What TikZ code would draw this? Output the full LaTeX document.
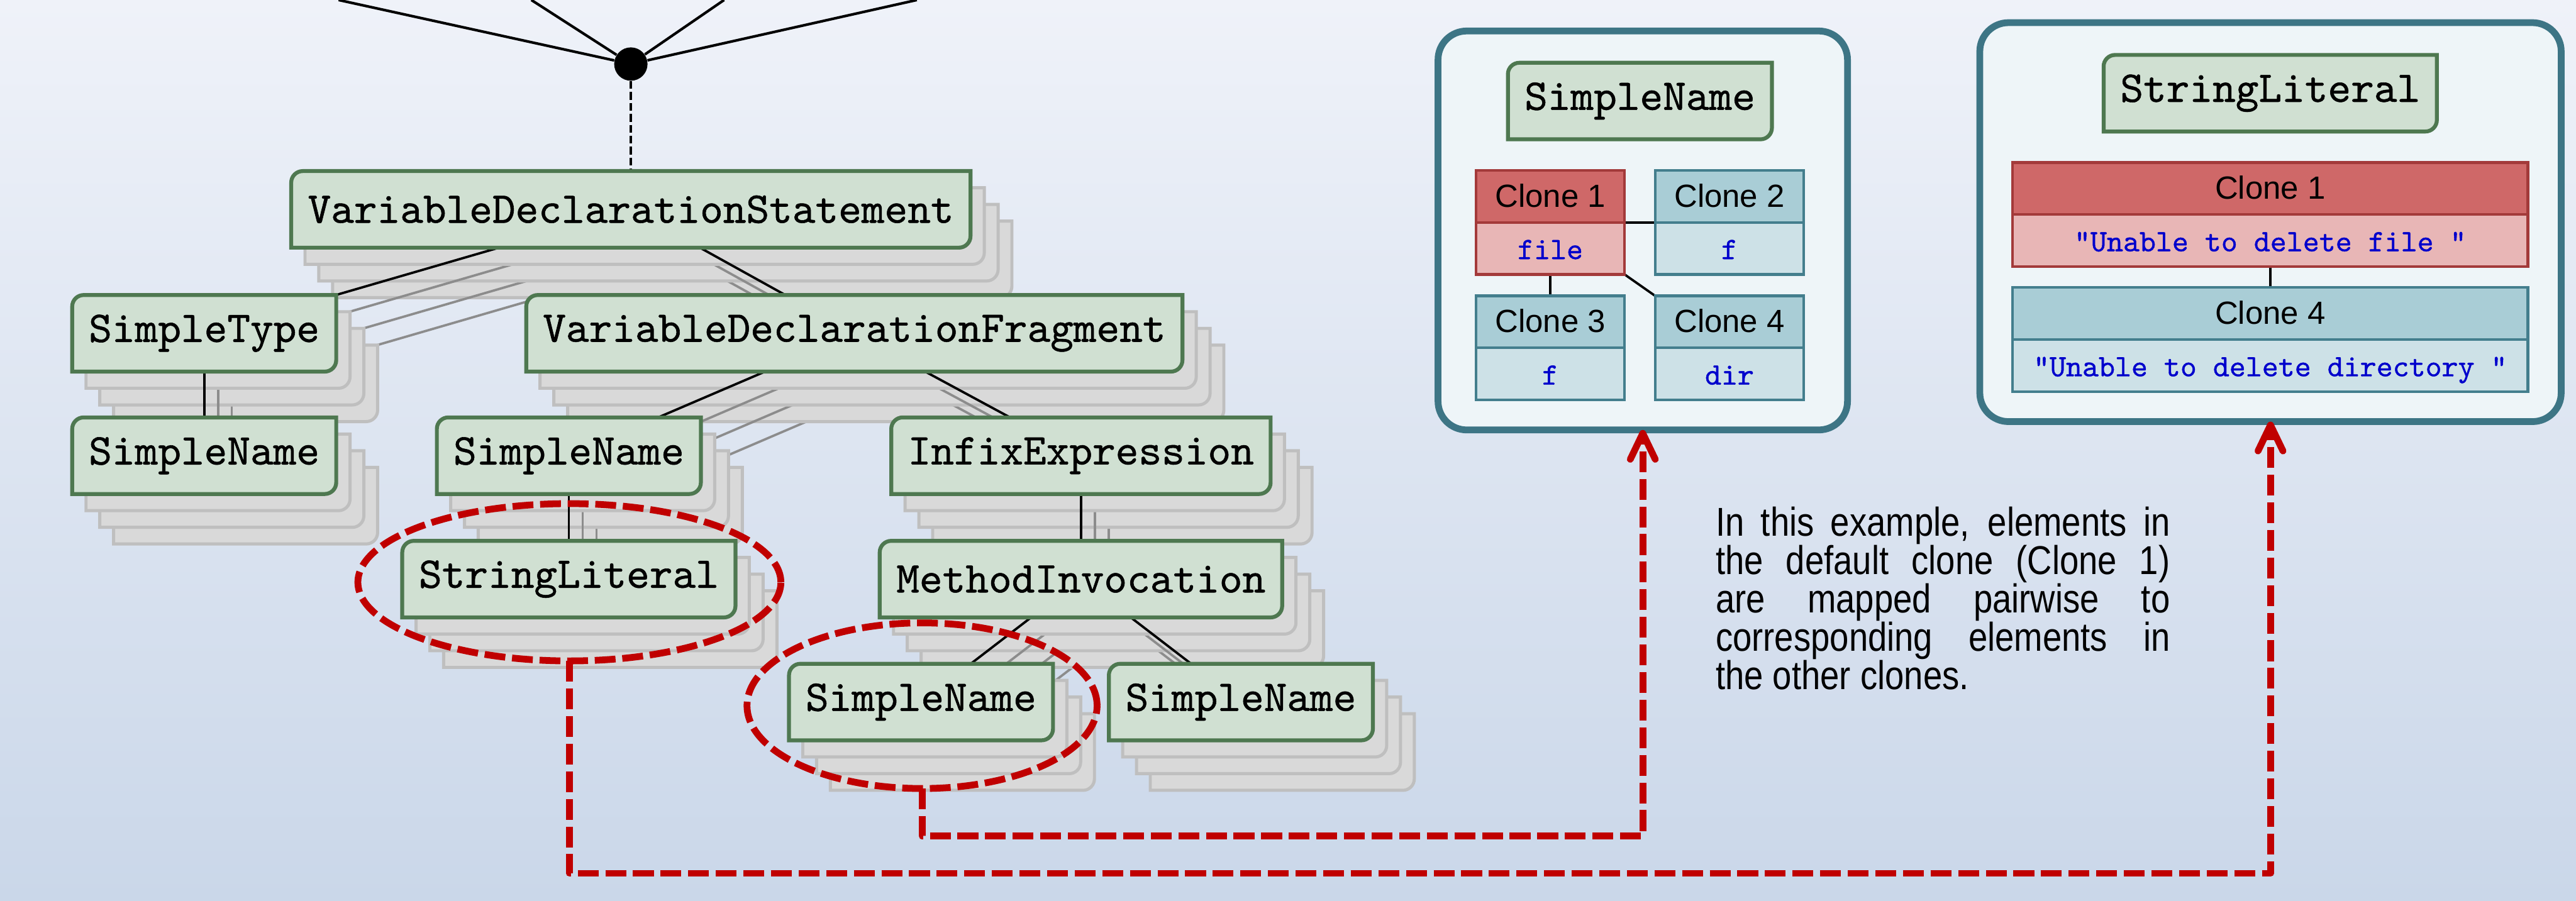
\documentclass[tikz,border=0pt]{standalone}
\usepackage{fontspec}
\setsansfont{Liberation Sans}
\newfontfamily\astfont{lmmono10-regular.otf}[FakeBold=0.8]
\newfontfamily\notefont{Liberation Sans}[FakeStretch=0.85]
\usetikzlibrary{shapes.geometric}
\usetikzlibrary{shapes.multipart}
\usetikzlibrary{arrows.meta}
\pgfdeclarelayer{background}
\pgfdeclarelayer{ghostlayer}
\pgfdeclarelayer{edgelayer}
\pgfdeclarelayer{boxlayer}
\pgfsetlayers{background,ghostlayer,edgelayer,boxlayer,main}

\definecolor{bgtop}{RGB}{239,242,249}
\definecolor{bgbottom}{RGB}{202,215,233}
\definecolor{boxfill}{RGB}{208,224,210}
\definecolor{boxline}{RGB}{78,120,80}
\definecolor{ghostfill}{RGB}{217,217,217}
\definecolor{ghostline}{RGB}{191,191,191}
\definecolor{ghostgray}{RGB}{140,140,140}
\definecolor{mapred}{RGB}{192,0,0}
\definecolor{panelline}{RGB}{61,117,133}
\definecolor{panelfill}{RGB}{238,245,248}
\definecolor{redhead}{RGB}{207,104,104}
\definecolor{redbody}{RGB}{232,182,182}
\definecolor{redline}{RGB}{163,58,58}
\definecolor{bluehead}{RGB}{169,205,214}
\definecolor{bluebody}{RGB}{205,225,231}
\definecolor{blueline}{RGB}{67,126,141}
\definecolor{codeblue}{RGB}{0,0,204}

\tikzstyle{astbox}=[rectangle,inner xsep=0.32cm,inner ysep=0pt,minimum height=1.47cm,outer sep=0pt,font=\astfont\fontsize{24}{28}\selectfont]
\tikzstyle{astframe}=[fill=boxfill,draw=boxline,line width=0.075cm]
\tikzstyle{ghostframe}=[fill=ghostfill,draw=ghostline,line width=0.06cm]
\tikzstyle{astedge}=[draw=black,line width=0.045cm]
\tikzstyle{ghostedge}=[draw=ghostgray,line width=0.045cm]
\tikzstyle{root}=[circle,fill=black,minimum size=0.64cm,inner sep=0pt]
\tikzstyle{rootline}=[draw=black,line width=0.05cm]
\tikzstyle{rootlink}=[draw=black,line width=0.055cm,dash pattern=on 0.15cm off 0.06cm]
\tikzstyle{hilite}=[ellipse,draw=mapred,line width=0.13cm,dash pattern=on 0.40cm off 0.13cm,inner sep=0pt,outer sep=0pt]
\tikzstyle{mapping}=[draw=mapred,line width=0.13cm,dash pattern=on 0.40cm off 0.13cm,line join=round,-{Straight Barb[length=0.5cm,width=0.48cm,line cap=round,line join=round]}]
\tikzstyle{panel}=[rectangle,rounded corners=0.55cm,draw=panelline,fill=panelfill,line width=0.13cm,outer sep=0pt]
\tikzstyle{redclone}=[rectangle split,rectangle split parts=2,draw=redline,rectangle split part fill={redhead,redbody},line width=0.05cm,inner ysep=0pt,outer sep=0pt]
\tikzstyle{blueclone}=[rectangle split,rectangle split parts=2,draw=blueline,rectangle split part fill={bluehead,bluebody},line width=0.05cm,inner ysep=0pt,outer sep=0pt]
\tikzstyle{clonelink}=[draw=black,line width=0.045cm]
\tikzstyle{note}=[align=justify,text width=8.72cm,inner sep=0pt,font=\notefont\fontsize{22}{21}\selectfont]

% frame with rounded top-left and bottom-right corners
\newcommand\cornerframe[2]{%
  \path[#2] ([yshift=-0.22cm]#1.north west) arc[start angle=180,end angle=90,radius=0.22cm]
    -- (#1.north east) -- ([yshift=0.22cm]#1.south east) arc[start angle=0,end angle=-90,radius=0.22cm]
    -- (#1.south west) -- cycle;}
% clone box text: header / code
\newcommand\clonetext[2]{{\sffamily\fontsize{17.5}{20}\selectfont\rule[-0.27cm]{0pt}{0.95cm}#1}\nodepart{two}{\astfont\fontsize{17}{20}\selectfont\color{codeblue}\rule[-0.27cm]{0pt}{0.95cm}#2}}
% one copy of the syntax tree
\newcommand\asttree[3]{%
  \node [style=#2] (vds#1) at (12.11, -4.02) {#3{VariableDeclarationStatement}};
  \node [style=#2] (stype#1) at (3.92, -6.40) {#3{SimpleType}};
  \node [style=#2] (vdf#1) at (16.40, -6.40) {#3{VariableDeclarationFragment}};
  \node [style=#2] (snA#1) at (3.92, -8.75) {#3{SimpleName}};
  \node [style=#2] (snB#1) at (10.92, -8.75) {#3{SimpleName}};
  \node [style=#2] (infix#1) at (20.75, -8.75) {#3{InfixExpression}};
  \node [style=#2] (strlit#1) at (10.92, -11.12) {#3{StringLiteral}};
  \node [style=#2] (minv#1) at (20.75, -11.12) {#3{MethodInvocation}};
  \node [style=#2] (snC#1) at (17.68, -13.48) {#3{SimpleName}};
  \node [style=#2] (snD#1) at (23.82, -13.48) {#3{SimpleName}};}
\newcommand\astedges[2]{%
  \draw [style=#2] (vds#1) to (stype#1);
  \draw [style=#2] (vds#1) to (vdf#1);
  \draw [style=#2] (stype#1) to (snA#1);
  \draw [style=#2] (vdf#1) to (snB#1);
  \draw [style=#2] (vdf#1) to (infix#1);
  \draw [style=#2] (snB#1) to (strlit#1);
  \draw [style=#2] (infix#1) to (minv#1);
  \draw [style=#2] (minv#1) to (snC#1);
  \draw [style=#2] (minv#1) to (snD#1);}
\newcommand\astframes[2]{%
  \foreach \n in {vds,stype,vdf,snA,snB,infix,strlit,minv,snC,snD} {\cornerframe{\n#1}{#2}}}

\begin{document}
\begin{tikzpicture}
	\useasboundingbox (0, 0) rectangle (49.45, -17.29);
	\begin{pgfonlayer}{background}
		\shade [top color=bgtop, bottom color=bgbottom] (0, 0) rectangle (49.45, -17.29);
	\end{pgfonlayer}
	% the other clones, behind
	\begin{pgfonlayer}{ghostlayer}
		\foreach \k in {3,2,1} {
			\begin{scope}[shift={(\k*0.265, -\k*0.32)}]
				\asttree{\k}{astbox}{\phantom}
				\astedges{\k}{ghostedge}
				\astframes{\k}{ghostframe}
			\end{scope}
		}
	\end{pgfonlayer}
	\begin{pgfonlayer}{edgelayer}
		\node [style=panel, minimum width=7.86cm, minimum height=7.66cm] (panelA) at (31.535, -4.425) {};
		\node [style=panel, minimum width=11.16cm, minimum height=7.66cm] (panelB) at (43.585, -4.265) {};
	\end{pgfonlayer}
	% default clone
	\asttree{}{astbox}{\mbox}
	\node [style=root] (root) at (12.11, -1.23) {};
	\coordinate (up1) at (6.50, 0);
	\coordinate (up2) at (10.20, 0);
	\coordinate (up3) at (13.90, 0);
	\coordinate (up4) at (17.60, 0);
	\node [style=astbox] (pnameA) at (31.48, -1.94) {SimpleName};
	\node [style=astbox] (pnameB) at (43.58, -1.79) {StringLiteral};
	\node [style=redclone, minimum width=2.85cm] (cA1) at (29.76, -4.27) {\clonetext{Clone 1}{file}};
	\node [style=blueclone, minimum width=2.85cm] (cA2) at (33.20, -4.27) {\clonetext{Clone 2}{f}};
	\node [style=blueclone, minimum width=2.85cm] (cA3) at (29.76, -6.68) {\clonetext{Clone 3}{f}};
	\node [style=blueclone, minimum width=2.85cm] (cA4) at (33.20, -6.68) {\clonetext{Clone 4}{dir}};
	\node [style=redclone, minimum width=9.89cm] (cB1) at (43.58, -4.12) {\clonetext{Clone 1}{"Unable to delete file "}};
	\node [style=blueclone, minimum width=9.89cm] (cB4) at (43.58, -6.52) {\clonetext{Clone 4}{"Unable to delete directory "}};
	\node [style=note, anchor=north west] (note) at (32.93, -9.72) {\hyphenpenalty=10000\tolerance=9999 In this example, elements in\linebreak the default clone (Clone 1)\linebreak are mapped pairwise to\linebreak corresponding elements in\linebreak the other clones.\par};
	\begin{pgfonlayer}{edgelayer}
		\astedges{}{astedge}
		\draw [style=rootline] (root) to (up1);
		\draw [style=rootline] (root) to (up2);
		\draw [style=rootline] (root) to (up3);
		\draw [style=rootline] (root) to (up4);
		\draw [style=rootlink] (root) to (vds);
		\draw [style=clonelink] (cA1) to (cA2);
		\draw [style=clonelink] (cA1) to (cA3);
		\draw [style=clonelink] (cA1) to (cA4);
		\draw [style=clonelink] (cB1) to (cB4);
	\end{pgfonlayer}
	\begin{pgfonlayer}{boxlayer}
		\astframes{}{astframe}
		\cornerframe{pnameA}{astframe}
		\cornerframe{pnameB}{astframe}
	\end{pgfonlayer}
	% mapped elements
	\node [style=hilite, minimum width=8.12cm, minimum height=3.02cm] (ringA) at (10.93, -11.18) {};
	\node [style=hilite, minimum width=6.72cm, minimum height=3.18cm] (ringB) at (17.70, -13.55) {};
	\draw [style=mapping] (ringA.south) -- ++(0, -4.08) -| (panelB.south);
	\draw [style=mapping] (ringB.south) -- ++(0, -0.91) -| (panelA.south);
\end{tikzpicture}
\end{document}
